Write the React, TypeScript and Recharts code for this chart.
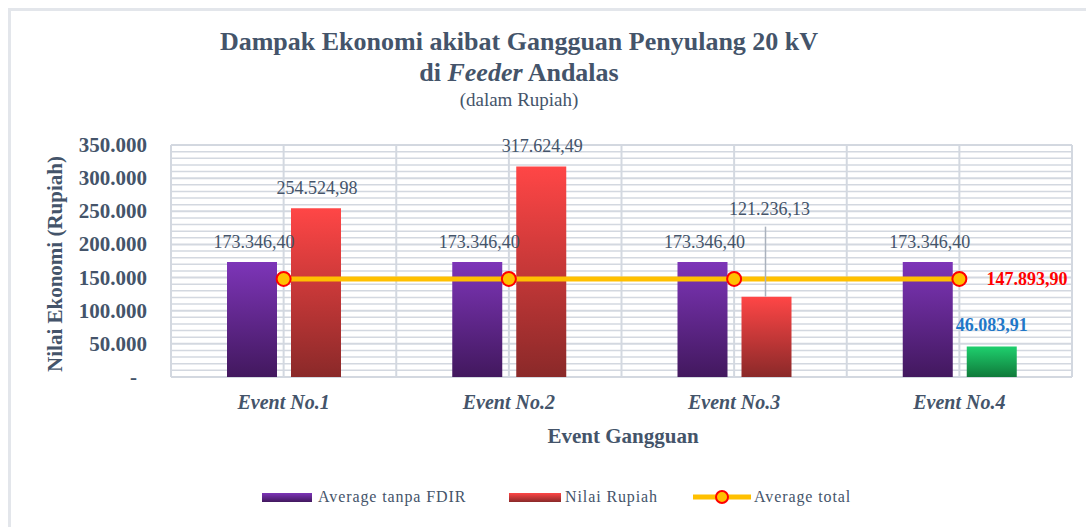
import React from 'react';
import { ComposedChart, Bar, Line, XAxis, YAxis, CartesianGrid, Cell, LabelList } from 'recharts';

const events = ['Event No.1', 'Event No.2', 'Event No.3', 'Event No.4'];
const avgTanpaFdir = [173346.4, 173346.4, 173346.4, 173346.4];
const nilaiRupiah = [254524.98, 317624.49, 121236.13, 46083.91];
const averageTotal = [147893.9, 147893.9, 147893.9, 147893.9];
const yTicks = [0, 50000, 100000, 150000, 200000, 250000, 300000, 350000];
const minorTicks = [
  10000, 20000, 30000, 40000, 60000, 70000, 80000, 90000, 110000, 120000, 130000, 140000,
  160000, 170000, 180000, 190000, 210000, 220000, 230000, 240000, 260000, 270000,
  280000, 290000, 310000, 320000, 330000, 340000,
];
const Y_MAX = 350000;

const data = events.map((name, i) => ({
  name,
  avgTanpa: avgTanpaFdir[i],
  nilai: nilaiRupiah[i],
  avgTotal: averageTotal[i],
}));

const TEXT = '#44546a';
const SERIF = '"Liberation Serif", "Times New Roman", serif';

// 350000 -> "350.000", 173346.4 -> "173.346,40"
const fmt = (v: number, dec = 0) => {
  const [int, frac] = v.toFixed(dec).split('.');
  const s = int.replace(/\B(?=(\d{3})+(?!\d))/g, '.');
  return frac ? `${s},${frac}` : s;
};

const YTick = (props: any) => {
  const { x, y, payload } = props;
  const zero = payload.value === 0;
  return (
    <text x={zero ? x - 10 : x} y={y} textAnchor="end" dominantBaseline="central"
      fill={TEXT} fontFamily={SERIF} fontSize={21} fontWeight={700}>
      {zero ? '-' : fmt(payload.value)}
    </text>
  );
};

const XTick = (props: any) => {
  const { x, y, payload } = props;
  return (
    <text x={x} y={y} textAnchor="middle" dy={22} fill={TEXT} fontFamily={SERIF}
      fontSize={20} fontWeight={700} fontStyle="italic">
      {payload.value}
    </text>
  );
};

const PurpleLabel = (props: any) => {
  const { x, y, width, value } = props;
  return (
    <text x={x + width / 2 + 2} y={y - 20} textAnchor="middle" dominantBaseline="central"
      fill={TEXT} fontFamily={SERIF} fontSize={18}>
      {fmt(value, 2)}
    </text>
  );
};

const NilaiLabel = (props: any) => {
  const { x, y, width, value, index } = props;
  const cx = x + width / 2;
  if (index === 3) {
    return (
      <text x={cx} y={y - 21} textAnchor="middle" dominantBaseline="central"
        fill="#1f78c8" fontFamily={SERIF} fontSize={18} fontWeight={700}>
        {fmt(value, 2)}
      </text>
    );
  }
  if (index === 2) {
    return (
      <g>
        <line x1={cx - 1} x2={cx - 1} y1={y - 70} y2={y} stroke="#aab2bd" strokeWidth={1.5} />
        <text x={cx + 3} y={y - 88} textAnchor="middle" dominantBaseline="central"
          fill={TEXT} fontFamily={SERIF} fontSize={18}>
          {fmt(value, 2)}
        </text>
      </g>
    );
  }
  return (
    <text x={cx + 1} y={y - 20} textAnchor="middle" dominantBaseline="central"
      fill={TEXT} fontFamily={SERIF} fontSize={18}>
      {fmt(value, 2)}
    </text>
  );
};

const TotalLabel = (props: any) => {
  const { x, y, value, index } = props;
  if (index !== averageTotal.length - 1) return null;
  return (
    <text x={x + 27} y={y} textAnchor="start" dominantBaseline="central"
      fill="#ff0000" fontFamily={SERIF} fontSize={18} fontWeight={700}>
      {fmt(value, 2)}
    </text>
  );
};

const App = () => {
  return (
    <div style={{ position: 'absolute', left: 0, top: 0, width: 1086, height: 527, background: '#fff', overflow: 'hidden', fontFamily: SERIF, color: TEXT }}>
      <div style={{ position: 'absolute', left: 8, top: 8, width: 1100, height: 560, border: '3px solid #e3e6eb', boxSizing: 'border-box' }} />

      {/* titles */}
      <div style={{ position: 'absolute', left: 0, width: 1038, top: 27, textAlign: 'center', fontSize: 26, fontWeight: 700, lineHeight: '30px' }}>
        Dampak Ekonomi akibat Gangguan Penyulang 20 kV
      </div>
      <div style={{ position: 'absolute', left: 0, width: 1038, top: 58, textAlign: 'center', fontSize: 26, fontWeight: 700, lineHeight: '30px' }}>
        di <i>Feeder</i> Andalas
      </div>
      <div style={{ position: 'absolute', left: 0, width: 1038, top: 88, textAlign: 'center', fontSize: 19, lineHeight: '24px' }}>
        (dalam Rupiah)
      </div>

      <div style={{ position: 'absolute', left: 0, top: 0 }}>
        <ComposedChart width={1086} height={527} data={data}
          margin={{ top: 145, right: 14, bottom: 90, left: 81 }} barSize={50} barGap={14}>
          <defs>
            <linearGradient id="gPurple" x1="0" y1="0" x2="0" y2="1">
              <stop offset="0%" stopColor="#7d35b8" />
              <stop offset="100%" stopColor="#42185e" />
            </linearGradient>
            <linearGradient id="gRed" x1="0" y1="0" x2="0" y2="1">
              <stop offset="0%" stopColor="#ff4646" />
              <stop offset="100%" stopColor="#8a2929" />
            </linearGradient>
            <linearGradient id="gGreen" x1="0" y1="0" x2="0" y2="1">
              <stop offset="0%" stopColor="#1fd06e" />
              <stop offset="100%" stopColor="#0f7a3a" />
            </linearGradient>
          </defs>
          <CartesianGrid vertical={false} horizontalValues={minorTicks} stroke="#d3d8e0" strokeWidth={1.5} />
          <CartesianGrid
            stroke="#d3d8e0"
            strokeWidth={2}
            verticalCoordinatesGenerator={({ offset }: any) =>
              [0, 1, 2, 3, 4, 5, 6, 7, 8].map((i) => offset.left + (i * offset.width) / 8)
            }
          />
          <XAxis dataKey="name" axisLine={false} tickLine={false} tickSize={0} tickMargin={10} height={60} tick={<XTick />} />
          <YAxis domain={[0, Y_MAX]} ticks={yTicks} interval={0} axisLine={false} tickLine={false}
            tickMargin={18} width={90} tick={<YTick />} />
          <Bar dataKey="avgTanpa" fill="url(#gPurple)" isAnimationActive={false}>
            <LabelList dataKey="avgTanpa" content={<PurpleLabel />} />
          </Bar>
          <Bar dataKey="nilai" fill="url(#gRed)" isAnimationActive={false}>
            {data.map((d, i) => (
              <Cell key={d.name} fill={i === 3 ? 'url(#gGreen)' : 'url(#gRed)'} />
            ))}
            <LabelList dataKey="nilai" content={<NilaiLabel />} />
          </Bar>
          <Line dataKey="avgTotal" type="linear" stroke="#ffc000" strokeWidth={5}
            dot={{ r: 7, fill: '#ffc000', stroke: '#ff0000', strokeWidth: 2 }} isAnimationActive={false}>
            <LabelList dataKey="avgTotal" content={<TotalLabel />} />
          </Line>
        </ComposedChart>
      </div>

      {/* axis titles */}
      <div style={{ position: 'absolute', left: 55 - 150, top: 264 - 14, width: 300, height: 28, lineHeight: '28px', textAlign: 'center', transform: 'rotate(-90deg)', fontSize: 21, fontWeight: 700 }}>
        Nilai Ekonomi (Rupiah)
      </div>
      <div style={{ position: 'absolute', left: 623 - 150, top: 436 - 14, width: 300, height: 28, lineHeight: '28px', textAlign: 'center', fontSize: 21, fontWeight: 700 }}>
        Event Gangguan
      </div>

      {/* legend */}
      <div style={{ position: 'absolute', left: 262, top: 493, width: 50, height: 9, background: 'linear-gradient(#7d35b8, #42185e)' }} />
      <div style={{ position: 'absolute', left: 318, top: 485, lineHeight: '24px', fontSize: 16, letterSpacing: 0.9 }}>Average tanpa FDIR</div>
      <div style={{ position: 'absolute', left: 509, top: 493, width: 52, height: 9, background: 'linear-gradient(#ff4646, #8a2929)' }} />
      <div style={{ position: 'absolute', left: 565, top: 485, lineHeight: '24px', fontSize: 16, letterSpacing: 0.9 }}>Nilai Rupiah</div>
      <svg style={{ position: 'absolute', left: 690, top: 487 }} width={64} height={20}>
        <line x1={3} x2={61} y1={10} y2={10} stroke="#ffc000" strokeWidth={5} />
        <circle cx={32} cy={10} r={6} fill="#ffc000" stroke="#ff0000" strokeWidth={2} />
      </svg>
      <div style={{ position: 'absolute', left: 754, top: 485, lineHeight: '24px', fontSize: 16, letterSpacing: 0.9 }}>Average total</div>
    </div>
  );
};

export default App;
